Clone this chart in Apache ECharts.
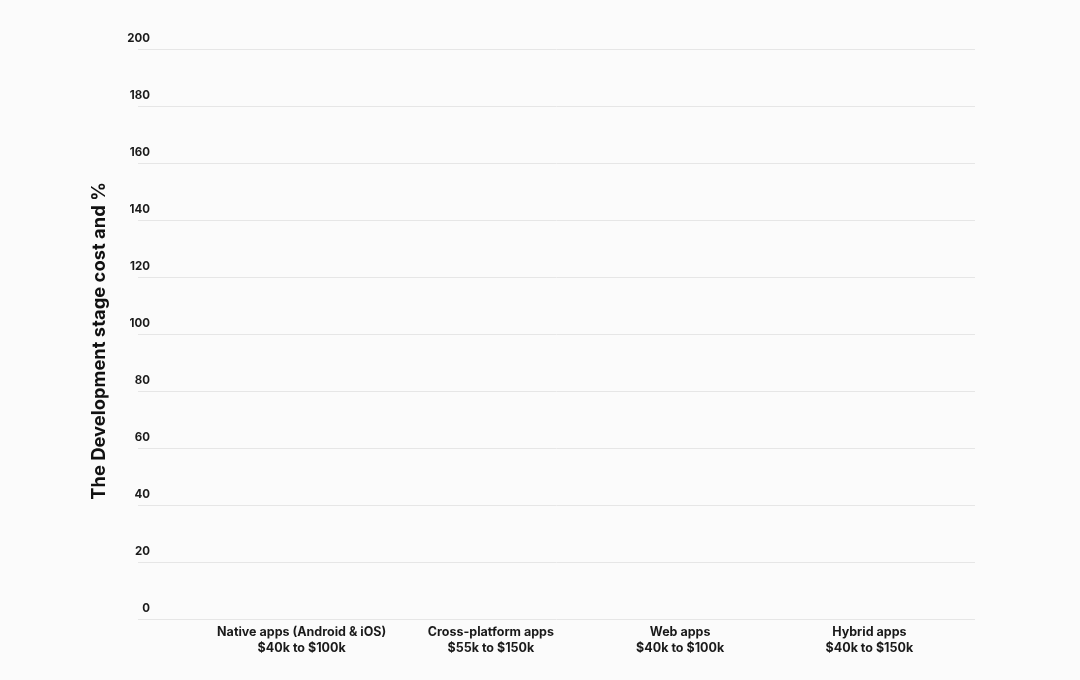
<!DOCTYPE html>
<html>
<head>
<meta charset="utf-8">
<script src="https://cdn.jsdelivr.net/npm/echarts@6/dist/echarts.min.js"></script>
<style>
html,body{margin:0;padding:0;background:#fbfbfb;}
#c{width:1080px;height:680px;}
</style>
</head>
<body>
<div id="c"></div>
<script>
const categories = [
  'Native apps (Android & iOS)\n$40k to $100k',
  'Cross-platform apps\n$55k to $150k',
  'Web apps\n$40k to $100k',
  'Hybrid apps\n$40k to $150k'
];
// The reference shows no bars drawn (values not visible)
const costValues = [null, null, null, null];
const yTicks = { min: 0, max: 200, interval: 20 };
const yAxisName = 'The Development stage cost and %';

const font = 'Inter, "Noto Sans", sans-serif';
const chart = echarts.init(document.getElementById('c'));
chart.setOption({
  backgroundColor: '#fbfbfb',
  animation: false,
  grid: [
    { left: 138, right: 105, top: 49, bottom: 61 },
    { left: 207, right: 116, top: 49, bottom: 61 }
  ],
  xAxis: [
    { type: 'category', gridIndex: 0, data: [''], show: false },
    {
      type: 'category', gridIndex: 1, data: categories,
      axisLine: { show: false }, axisTick: { show: false },
      axisLabel: {
        interval: 0, margin: 5, color: '#1a1a1a', fontFamily: font,
        fontWeight: 'bold', fontSize: 12.5, lineHeight: 16
      }
    }
  ],
  yAxis: [
    {
      type: 'value', gridIndex: 0, min: yTicks.min, max: yTicks.max, interval: yTicks.interval,
      name: yAxisName, nameLocation: 'middle', nameGap: 30, nameRotate: 90,
      nameTextStyle: { color: '#111', fontFamily: font, fontWeight: 'bold', fontSize: 18.4, padding: [0, 0, 0, -14] },
      axisLine: { show: false }, axisTick: { show: false },
      axisLabel: {
        margin: -12, color: '#1a1a1a', fontFamily: font, fontWeight: 'bold', fontSize: 11.5,
        verticalAlign: 'bottom', padding: [0, 0, 4, 0]
      },
      splitLine: { lineStyle: { color: '#e6e6e6', width: 1 } }
    },
    {
      type: 'value', gridIndex: 1, min: yTicks.min, max: yTicks.max, interval: yTicks.interval,
      show: false, splitLine: { show: false }
    }
  ],
  series: [
    {
      type: 'bar', name: 'Development cost', xAxisIndex: 1, yAxisIndex: 1,
      data: costValues, barWidth: 60, itemStyle: { color: '#3b6cf6' }
    }
  ]
});
</script>
</body>
</html>
